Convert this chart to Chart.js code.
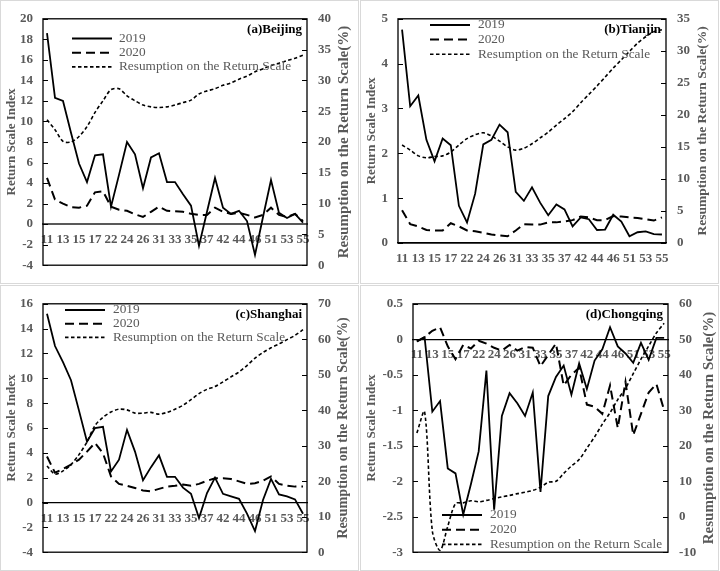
<!DOCTYPE html>
<html lang="en">
<head>
<meta charset="UTF-8">
<title>Return Scale Index</title>
<script src="https://cdn.jsdelivr.net/npm/chart.js"></script>
<style>
  body { margin: 0; background: #fff; }
  #wrap { position: relative; width: 720px; height: 571px; }
  canvas { position: absolute; }
</style>
</head>
<body>
<div id="wrap">
  <canvas id="beijing" width="359" height="284" style="left:0;top:0;width:359px;height:284px"></canvas>
  <canvas id="tianjin" width="359" height="284" style="left:360px;top:0;width:359px;height:284px"></canvas>
  <canvas id="shanghai" width="359" height="286" style="left:0;top:285px;width:359px;height:286px"></canvas>
  <canvas id="chongqing" width="359" height="286" style="left:360px;top:285px;width:359px;height:286px"></canvas>
</div>
<script>
// weeks (month + week), every other one is labelled
const categories = ['11','12','13','14','15','16','17','21','22','23','24','25','26','27',
  '31','32','33','34','35','36','37','41','42','43','44','45','46','47','51','52','53','54','55'];

const beijing2019 = [18.6,12.3,12.0,8.9,5.9,4.1,6.7,6.8,1.7,4.8,8.0,6.8,3.5,6.5,6.9,4.1,4.1,2.9,1.8,-2.1,1.2,4.5,1.6,1.0,1.3,0.3,-3.0,0.7,4.3,1.1,0.6,1.0,0.15];
const beijing2020 = [4.5,2.4,2.0,1.65,1.6,1.8,3.1,3.2,1.7,1.4,1.3,0.95,0.7,1.2,1.7,1.3,1.25,1.2,1.0,0.9,0.9,1.6,1.2,1.0,1.1,0.9,0.65,0.9,1.6,0.9,0.7,1.0,0.3];
const beijingResume = [23.6,22.0,20.1,20.0,20.9,22.5,24.8,26.7,28.5,28.65,27.5,26.7,26.0,25.7,25.6,25.7,26.0,26.4,26.8,27.8,28.3,28.65,29.2,29.6,30.2,30.7,31.4,31.9,32.4,32.8,33.2,33.6,34.1];

const tianjin2019 = [4.76,3.05,3.29,2.3,1.82,2.33,2.18,0.83,0.46,1.1,2.2,2.3,2.64,2.47,1.14,0.94,1.24,0.9,0.62,0.86,0.75,0.37,0.57,0.53,0.29,0.3,0.63,0.48,0.15,0.24,0.26,0.2,0.19];
const tianjin2020 = [0.73,0.42,0.37,0.29,0.28,0.28,0.44,0.37,0.28,0.26,0.23,0.19,0.17,0.15,0.28,0.42,0.41,0.41,0.46,0.46,0.48,0.51,0.59,0.57,0.51,0.51,0.6,0.59,0.57,0.56,0.53,0.5,0.57];
const tianjinResume = [15.3,14.5,13.6,13.3,13.5,13.6,14.2,15.3,16.3,16.9,17.2,16.7,15.9,15.0,14.5,14.8,15.5,16.4,17.3,18.4,19.4,20.5,21.9,23.2,24.5,25.9,27.3,28.6,29.9,31.2,32.2,33.0,33.3];

const shanghai2019 = [15.2,12.6,11.3,9.85,7.4,4.9,6.0,6.1,2.5,3.45,5.85,4.1,1.8,2.85,3.8,2.07,2.07,1.2,0.7,-1.25,0.76,2.0,0.7,0.5,0.3,-0.9,-2.3,0.2,1.9,0.65,0.5,0.25,-0.9];
const shanghai2020 = [3.7,2.4,2.7,3.05,3.45,4.1,4.8,3.96,2.1,1.5,1.35,1.17,0.97,0.9,1.1,1.28,1.35,1.45,1.35,1.5,1.75,1.95,1.95,1.9,1.7,1.5,1.55,1.75,2.1,1.5,1.35,1.28,1.28];
const shanghaiResume = [24.3,22.0,22.9,24.7,27.5,31.1,35.7,38.0,39.5,40.3,40.1,39.2,39.2,39.4,38.9,39.4,40.3,41.4,43.0,44.7,45.9,46.7,48.0,49.4,50.8,52.6,54.7,56.3,57.6,58.7,59.9,61.1,62.7];

const chongqing2019 = [-0.03,0.03,-1.02,-0.87,-1.82,-1.89,-2.47,-2.04,-1.58,-0.44,-2.4,-1.08,-0.76,-0.9,-1.08,-0.75,-2.15,-0.8,-0.53,-0.37,-0.78,-0.34,-0.7,-0.3,-0.14,0.17,-0.1,-0.2,-0.33,-0.05,-0.29,0.02,0.02];
const chongqing2020 = [-0.03,0.03,0.12,0.17,-0.1,-0.28,-0.08,-0.13,-0.02,-0.06,-0.12,-0.16,-0.08,-0.16,-0.11,-0.12,-0.38,-0.22,-0.06,-0.65,-0.5,-0.4,-0.92,-0.95,-1.05,-0.65,-1.25,-0.6,-1.35,-1.05,-0.75,-0.63,-1.0];
const chongqingResume = [23.6,29.6,-4.0,-9.5,-2.7,3.7,3.9,4.5,4.2,4.6,5.1,5.6,6.0,6.5,6.9,7.4,8.3,9.7,10.0,12.2,14.3,16.1,19.3,22.5,26.1,29.3,33.0,36.2,40.3,44.4,48.1,51.8,54.5];

// [min, max, step]
const beijingLeft = [-4, 20, 2], beijingRight = [0, 40, 5];
const tianjinLeft = [0, 5, 1], tianjinRight = [0, 35, 5];
const shanghaiLeft = [-4, 16, 2], shanghaiRight = [0, 70, 10];
const chongqingLeft = [-3, 0.5, 0.5], chongqingRight = [-10, 60, 10];

const seriesNames = ['2019', '2020', 'Resumption on the Return Scale'];

const SERIF = '"Liberation Serif", "Times New Roman", serif';
const GREY = '#595959';
const DASH_2020 = [9, 5];
const DASH_RES = [3.5, 2.5];

const panels = [
  { id: 'beijing', title: '(a)Beijing', s19: beijing2019, s20: beijing2020, res: beijingResume,
    left: beijingLeft, right: beijingRight, area: { l: 43, r: 307, t: 15, b: 270 },
    legend: { x: 72, y: 38.5, dy: 14.2, tx: 119 }, rt: { size: 15, x: 344 }, zero: { color: GREY, width: 2 } },
  { id: 'tianjin', title: '(b)Tianjin', s19: tianjin2019, s20: tianjin2020, res: tianjinResume,
    left: tianjinLeft, right: tianjinRight, area: { l: 38, r: 306, t: 15, b: 243 },
    legend: { x: 70, y: 25, dy: 14.6, tx: 118 }, rt: { size: 13.5, x: 343 }, zero: { color: '#000', width: 1.3 } },
  { id: 'shanghai', title: '(c)Shanghai', s19: shanghai2019, s20: shanghai2020, res: shanghaiResume,
    left: shanghaiLeft, right: shanghaiRight, area: { l: 43, r: 307, t: 15, b: 270 },
    legend: { x: 65, y: 25, dy: 13.7, tx: 113 }, rt: { size: 14.3, x: 343 }, zero: { color: '#000', width: 1.3 } },
  { id: 'chongqing', title: '(d)Chongqing', s19: chongqing2019, s20: chongqing2020, res: chongqingResume,
    left: chongqingLeft, right: chongqingRight, area: { l: 53, r: 308, t: 15, b: 270 },
    legend: { x: 82, y: 230, dy: 14.7, tx: 130 }, rt: { size: 15, x: 349 }, zero: { color: '#000', width: 1.3 } }
];

Chart.defaults.font.family = SERIF;

function framePlugin(p) {
  return {
    id: 'frame',
    afterDraw(chart) {
      const { ctx, chartArea: a, scales } = chart;
      ctx.save();
      // panel border
      ctx.strokeStyle = '#d9d9d9';
      ctx.lineWidth = 1;
      ctx.strokeRect(0.5, 0.5, chart.width - 1, chart.height - 1);
      // plot box
      ctx.strokeStyle = '#000';
      ctx.lineWidth = 1.3;
      ctx.strokeRect(a.left, a.top, a.right - a.left, a.bottom - a.top);
      // inside ticks
      ctx.lineWidth = 1;
      ctx.beginPath();
      scales.y.ticks.forEach(t => {
        const py = Math.round(scales.y.getPixelForValue(t.value)) + 0.5;
        ctx.moveTo(a.left, py); ctx.lineTo(a.left + 5, py);
      });
      scales.y1.ticks.forEach(t => {
        const py = Math.round(scales.y1.getPixelForValue(t.value)) + 0.5;
        ctx.moveTo(a.right, py); ctx.lineTo(a.right - 5, py);
      });
      ctx.stroke();

      // right axis title, reads bottom to top
      ctx.save();
      ctx.translate(p.rt.x, (a.top + a.bottom) / 2);
      ctx.rotate(-Math.PI / 2);
      ctx.fillStyle = GREY;
      ctx.font = 'bold ' + p.rt.size + 'px ' + SERIF;
      ctx.textAlign = 'center';
      ctx.textBaseline = 'middle';
      ctx.fillText('Resumption on the Return Scale(%)', 0, 0);
      ctx.restore();

      // panel title
      ctx.fillStyle = '#000';
      ctx.font = 'bold 13px ' + SERIF;
      ctx.textAlign = 'right';
      ctx.textBaseline = 'middle';
      ctx.fillText(p.title, a.right - 5, a.top + 11);

      // legend
      const dashes = [[], DASH_2020, DASH_RES];
      const widths = [1.8, 2, 1.6];
      ctx.font = '13.3px ' + SERIF;
      ctx.textAlign = 'left';
      seriesNames.forEach((name, i) => {
        const y = p.legend.y + i * p.legend.dy;
        ctx.strokeStyle = '#000';
        ctx.lineWidth = widths[i];
        ctx.setLineDash(dashes[i]);
        ctx.beginPath();
        ctx.moveTo(p.legend.x, y); ctx.lineTo(p.legend.x + 40, y);
        ctx.stroke();
        ctx.setLineDash([]);
        ctx.fillStyle = GREY;
        ctx.fillText(name, p.legend.tx, y);
      });
      ctx.restore();
    }
  };
}

const tickFont = { size: 13, weight: 'bold', family: SERIF };

panels.forEach(p => {
  const canvas = document.getElementById(p.id);
  const W = canvas.width, H = canvas.height;
  new Chart(canvas, {
    type: 'line',
    data: {
      labels: categories,
      datasets: [
        { label: seriesNames[0], data: p.s19, yAxisID: 'y', borderColor: '#000', borderWidth: 1.8,
          pointRadius: 0, tension: 0 },
        { label: seriesNames[1], data: p.s20, yAxisID: 'y', borderColor: '#000', borderWidth: 2,
          borderDash: DASH_2020, pointRadius: 0, tension: 0 },
        { label: seriesNames[2], data: p.res, yAxisID: 'y1', borderColor: '#000', borderWidth: 1.6,
          borderDash: DASH_RES, pointRadius: 0, tension: 0.3 }
      ]
    },
    options: {
      responsive: false,
      animation: false,
      layout: { padding: { top: p.area.t, bottom: H - p.area.b, left: 0, right: 0 } },
      plugins: { legend: { display: false }, tooltip: { enabled: false } },
      scales: {
        x: {
          position: { y: 0 },
          offset: true,
          grid: { display: false, drawTicks: false },
          border: { display: true, color: p.zero.color, width: p.zero.width },
          ticks: {
            autoSkip: false, maxRotation: 0, minRotation: 0, padding: 8,
            color: GREY, font: tickFont,
            callback: function (v, i) { return i % 2 === 0 ? this.getLabelForValue(v) : ''; }
          }
        },
        y: {
          position: 'left',
          min: p.left[0], max: p.left[1],
          grid: { display: false, drawTicks: false },
          border: { display: false },
          ticks: { stepSize: p.left[2], padding: 10, color: GREY, font: tickFont,
            callback: v => String(+v.toFixed(2)) },
          title: { display: true, text: 'Return Scale Index', color: GREY,
            font: { size: 13, weight: 'bold', family: SERIF }, padding: { top: 4, bottom: 0 } },
          afterFit: s => { s.width = p.area.l; }
        },
        y1: {
          position: 'right',
          min: p.right[0], max: p.right[1],
          grid: { display: false, drawTicks: false },
          border: { display: false },
          ticks: { stepSize: p.right[2], padding: 11, color: GREY, font: tickFont,
            callback: v => String(+v.toFixed(2)) },
          afterFit: s => { s.width = W - p.area.r; }
        }
      }
    },
    plugins: [framePlugin(p)]
  });
});
</script>
</body>
</html>
